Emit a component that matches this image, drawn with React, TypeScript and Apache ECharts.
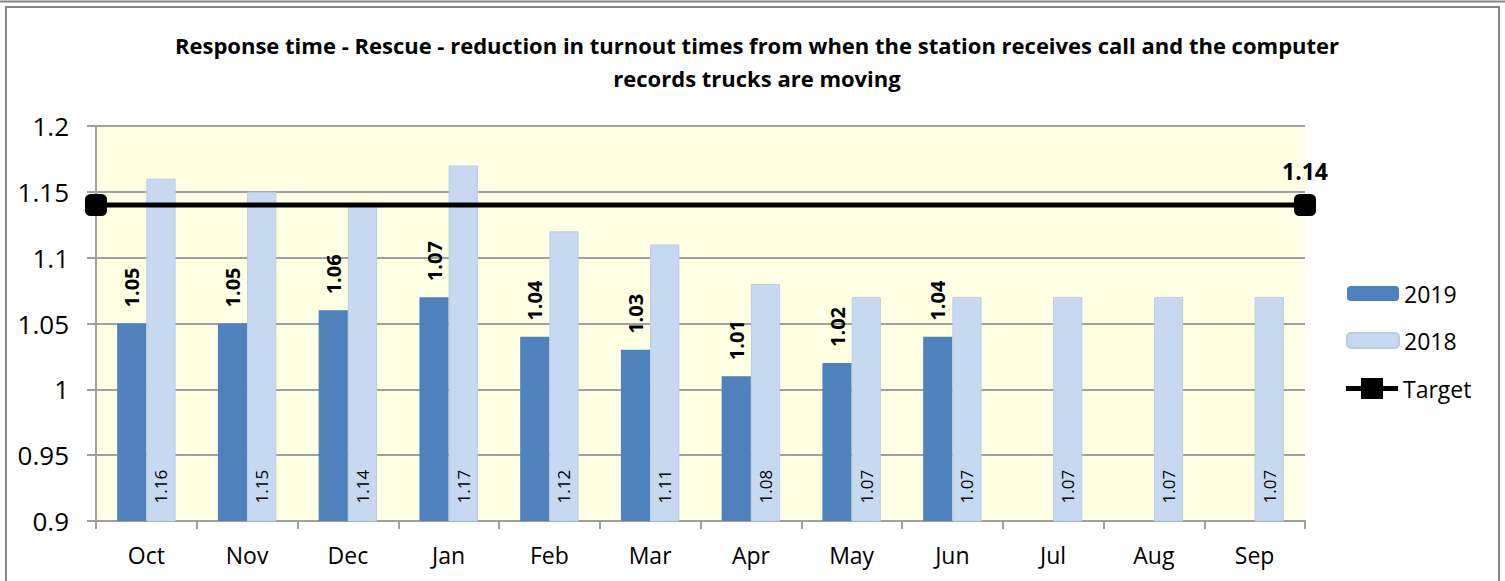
import React, { useEffect, useRef } from "react";
import * as echarts from "echarts";

const categories = ["Oct", "Nov", "Dec", "Jan", "Feb", "Mar", "Apr", "May", "Jun", "Jul", "Aug", "Sep"];
const values2019: (number | null)[] = [1.05, 1.05, 1.06, 1.07, 1.04, 1.03, 1.01, 1.02, 1.04, null, null, null];
const values2018: number[] = [1.16, 1.15, 1.14, 1.17, 1.12, 1.11, 1.08, 1.07, 1.07, 1.07, 1.07, 1.07];
const targetValue = 1.14;
const yTicks = { min: 0.9, max: 1.2, interval: 0.05 };
const titleText =
  "Response time - Rescue - reduction in turnout times from when the station receives call and the computer\nrecords trucks are moving";

const FONT = "'Open Sans', 'Noto Sans', sans-serif";

export default function App() {
  const ref = useRef<HTMLDivElement>(null);
  useEffect(() => {
    if (!ref.current) return;
    const chart = echarts.init(ref.current, null, { renderer: "svg" });
    chart.setOption({
      animation: false,
      backgroundColor: "#ffffff",
      textStyle: { fontFamily: FONT },
      title: {
        text: titleText,
        left: 752,
        textAlign: "center",
        top: 23,
        textStyle: { fontFamily: FONT, fontSize: 22, fontWeight: "bold", color: "#000", lineHeight: 33 },
      },
      graphic: [
        { type: "line", shape: { x1: 0, y1: 1.5, x2: 1505, y2: 1.5 }, style: { stroke: "#868686", lineWidth: 2 } },
        { type: "rect", shape: { x: 6, y: 7, width: 1493, height: 600 }, style: { fill: "none", stroke: "#868686", lineWidth: 2 } },
      ],
      legend: [
        {
          orient: "vertical",
          left: 1341,
          top: 277,
          itemWidth: 52,
          itemHeight: 15,
          itemGap: 24,
          textStyle: { fontFamily: FONT, fontSize: 23, color: "#000", lineHeight: 21 },
          data: ["2019", "2018"],
        },
        {
          orient: "vertical",
          left: 1341,
          top: 372,
          itemWidth: 52,
          itemHeight: 21,
          textStyle: { fontFamily: FONT, fontSize: 23, color: "#000", lineHeight: 21 },
          data: [{ name: "Target", icon: "path://M0,8H52V13H0Z M15,0H37V21H15Z" }],
        },
      ],
      grid: {
        left: 96,
        right: 200,
        top: 126,
        bottom: 60,
        show: true,
        backgroundColor: "#ffffe3",
        borderWidth: 0,
      },
      xAxis: [
        {
          type: "category",
          data: categories,
          axisLine: { show: true, lineStyle: { color: "#a0a0a0", width: 2 } },
          axisTick: { show: true, length: 8, lineStyle: { color: "#a0a0a0", width: 2 } },
          axisLabel: { fontFamily: FONT, fontSize: 23, color: "#000", margin: 22 },
        },
        { type: "value", min: 0, max: 1, show: false },
      ],
      yAxis: {
        type: "value",
        min: yTicks.min,
        max: yTicks.max,
        interval: yTicks.interval,
        axisLine: { show: true, lineStyle: { color: "#a0a0a0", width: 2 } },
        axisTick: { show: true, length: 9, lineStyle: { color: "#a0a0a0", width: 2 } },
        axisLabel: {
          fontFamily: FONT,
          fontSize: 26,
          color: "#000",
          margin: 27,
          formatter: (v: number) => String(parseFloat(v.toFixed(2))),
        },
        splitLine: { show: true, lineStyle: { color: "#a0a0a0", width: 2 } },
      },
      series: [
        {
          name: "2019",
          type: "bar",
          data: values2019,
          barGap: "0%",
          barCategoryGap: "42%",
          itemStyle: { color: "#4f81bd" },
          label: {
            show: true,
            position: "top",
            rotate: 90,
            align: "left",
            verticalAlign: "middle",
            distance: 16,
            fontFamily: FONT,
            fontSize: 20,
            fontWeight: "bold",
            color: "#000",
            formatter: (p: any) => (p.value == null ? "" : p.value.toFixed(2)),
          },
        },
        {
          name: "2018",
          type: "bar",
          data: values2018,
          itemStyle: { color: "#c6d9f0", borderColor: "#b8cce4", borderWidth: 1 },
          label: {
            show: true,
            position: "insideBottom",
            rotate: 90,
            align: "left",
            verticalAlign: "middle",
            distance: 18,
            fontFamily: FONT,
            fontSize: 17,
            color: "#000",
            formatter: (p: any) => p.value.toFixed(2),
          },
        },
        {
          name: "Target",
          type: "line",
          xAxisIndex: 1,
          clip: false,
          symbol: "roundRect",
          symbolSize: 22,
          itemStyle: { color: "#000" },
          lineStyle: { color: "#000", width: 5 },
          z: 5,
          data: [
            { value: [0, targetValue] },
            {
              value: [1, targetValue],
              label: {
                show: true,
                position: "top",
                distance: 12,
                fontFamily: FONT,
                fontSize: 23,
                fontWeight: "bold",
                color: "#000",
                formatter: (p: any) => p.value[1].toFixed(2),
              },
            },
          ],
        },
      ],
    });
    return () => chart.dispose();
  }, []);
  return <div ref={ref} style={{ position: "fixed", left: 0, top: 0, width: 1505, height: 581 }} />;
}
